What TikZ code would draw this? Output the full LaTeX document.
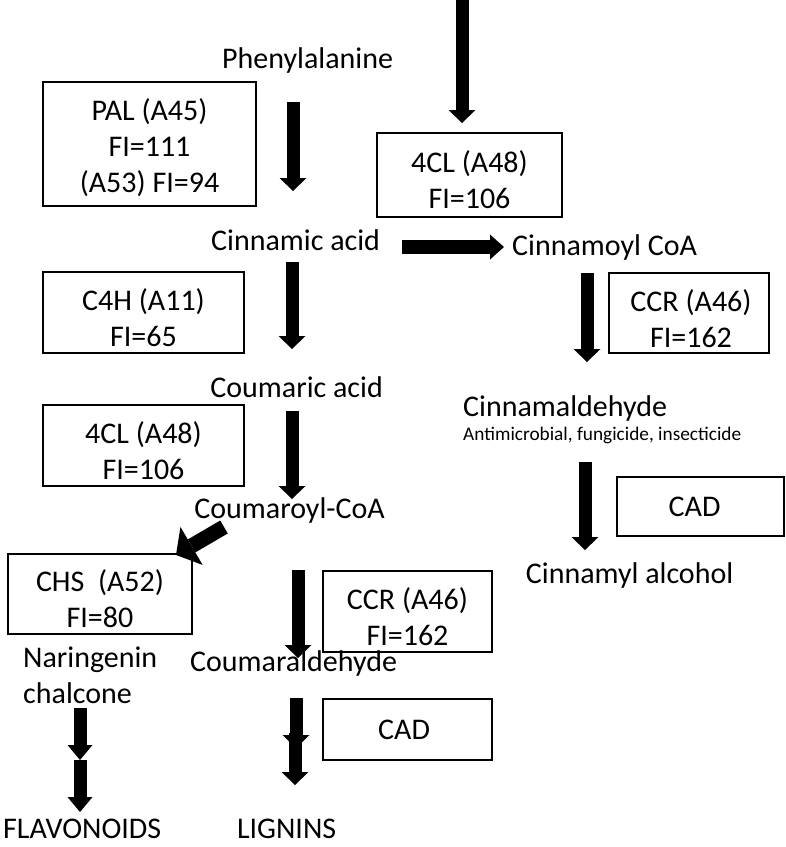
\documentclass[tikz,border=0pt]{standalone}
\usepackage{fontspec}
\setmainfont{Carlito}
\usetikzlibrary{arrows.meta}

\begin{document}
\begin{tikzpicture}[x = 1pt, y = -1pt,
    every node/.style = { align = center, inner sep = 0pt, font = \fontsize{30}{36}\selectfont },
    enzyme/.style = { draw, line width = 2.5pt },
    small/.style = { font = \fontsize{19.3}{24}\selectfont },
    fat/.style = { line width = 13pt, -{Triangle[length = 13pt, width = 27pt, line width = 0pt]} }]
  \useasboundingbox (0,0) rectangle (786,847);

  % compounds
  \node (phe)   at (311,60)  { Phenylalanine };
  \node (cinac) at (299,240) { Cinnamic acid };
  \node (cinco) at (608,247) { Cinnamoyl CoA };
  \node (coum)  at (300,387) { Coumaric acid };
  \node (cinal) [anchor = west] at (463,408) { Cinnamaldehyde };
  \node (use)   [anchor = west, small] at (463,435) { Antimicrobial, fungicide, insecticide };
  \node (coco)  at (293,510) { Coumaroyl-CoA };
  \node (nar)   [anchor = west, align = left] at (23,675) { Naringenin \\ chalcone };
  \node (coal)  at (297,663) { Coumaraldehyde };
  \node (cinol) at (633,575) { Cinnamyl alcohol };
  \node (flav)  [anchor = west] at (3,829) { FLAVONOIDS };
  \node (lig)   at (290,829) { LIGNINS };

  % enzymes
  \node (pal)  [enzyme, minimum width = 213pt, minimum height = 124pt] at (149.5,144) {};
  \node (cla)  [enzyme, minimum width = 185pt, minimum height = 84pt] at (469.5,175) {};
  \node (cfh)  [enzyme, minimum width = 201pt, minimum height = 81pt] at (143.5,312.5) {};
  \node (ccra) [enzyme, minimum width = 160pt, minimum height = 80pt] at (689,313) {};
  \node (clb)  [enzyme, minimum width = 201pt, minimum height = 81pt] at (143.5,445.5) {};
  \node (chs)  [enzyme, minimum width = 184pt, minimum height = 80pt] at (100,594) {};
  \node (ccrb) [enzyme, minimum width = 169pt, minimum height = 81pt] at (407.5,611.5) {};
  \node (cada) [enzyme, minimum width = 169pt, minimum height = 61pt] at (407.5,729.5) {};
  \node (cadb) [enzyme, minimum width = 167pt, minimum height = 59pt] at (700.5,506.5) {};

  \node (paltxt)  at (149.5,148) { PAL (A45) \\ FI=111 \\ (A53) FI=94 };
  \node (clatxt)  at (469.5,180) { 4CL (A48) \\ FI=106 };
  \node (cfhtxt)  at (143.5,318) { C4H (A11) \\ FI=65 };
  \node (ccratxt) at (691,319) { CCR (A46) \\ FI=162 };
  \node (clbtxt)  at (143.5,451) { 4CL (A48) \\ FI=106 };
  \node (chstxt)  at (100,599) { CHS~~(A52) \\ FI=80 };
  \node (ccrbtxt) at (407.5,617) { CCR (A46) \\ FI=162 };
  \node (cadatxt) at (407.5,730) { CAD };
  \node (cadbtxt) at (698,507) { CAD };

  % arrow ends
  \coordinate (t1) at (462,0);   \coordinate (h1) at (462,123);
  \coordinate (t2) at (293,102); \coordinate (h2) at (293,191);
  \coordinate (t3) at (402,247); \coordinate (h3) at (504,247);
  \coordinate (t4) at (587,273); \coordinate (h4) at (587,362);
  \coordinate (t5) at (292,262); \coordinate (h5) at (292,349);
  \coordinate (t6) at (292,411); \coordinate (h6) at (292,499);
  \coordinate (t7) at (224,527); \coordinate (h7) at (176,555);
  \coordinate (t8) at (298,570); \coordinate (h8) at (298,658);
  \coordinate (t9) at (296,698); \coordinate (h9) at (296,748);
  \coordinate (ta) at (295,733); \coordinate (ha) at (295,785);
  \coordinate (tb) at (80,708);  \coordinate (hb) at (80,760);
  \coordinate (tc) at (80,760);  \coordinate (hc) at (80,812);
  \coordinate (td) at (585,462); \coordinate (hd) at (585,550);

  % arrows
  \draw [fat] (t1) -- (h1);
  \draw [fat] (t2) -- (h2);
  \draw [fat, line width = 14pt, -{Triangle[length = 14pt, width = 25pt, line width = 0pt]}] (t3) -- (h3);
  \draw [fat] (t4) -- (h4);
  \draw [fat] (t5) -- (h5);
  \draw [fat] (t6) -- (h6);
  \draw [fat, line width = 15pt, -{Triangle[length = 18pt, width = 44pt, line width = 0pt]}] (t7) -- (h7);
  \draw [fat] (t8) -- (h8);
  \draw [fat] (t9) -- (h9);
  \draw [fat] (ta) -- (ha);
  \draw [fat, -{Triangle[length = 15pt, width = 25pt, line width = 0pt]}] (tb) -- (hb);
  \draw [fat, -{Triangle[length = 15pt, width = 25pt, line width = 0pt]}] (tc) -- (hc);
  \draw [fat] (td) -- (hd);
\end{tikzpicture}
\end{document}
